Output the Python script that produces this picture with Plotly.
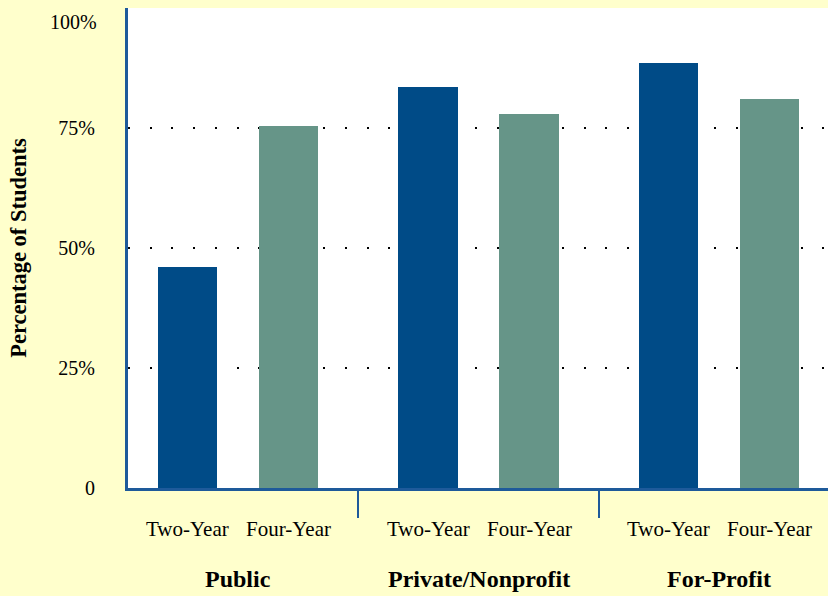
import plotly.graph_objects as go

# Share of students, by sector and program length
sectors = ["Public", "Private/Nonprofit", "For-Profit"]
programs = ["Two-Year", "Four-Year"]
two_year = [46.0, 83.5, 88.5]
four_year = [75.4, 77.9, 81.0]

y_ticks = [0, 25, 50, 75, 100]
y_tick_labels = ["0", "25%", "50%", "75%", "100%"]

DARK_BLUE = "#004B87"
TEAL = "#669588"
AXIS_BLUE = "#1E5A9A"
PAPER = "#FFFFCC"
SERIF = "Liberation Serif, Times New Roman, serif"

# Horizontal layout: bars one unit apart inside a group, groups spaced wider
GROUP_GAP = 2.38
BAR_WIDTH = 0.585

x_two = [g * GROUP_GAP for g in range(len(sectors))]
x_four = [g * GROUP_GAP + 1 for g in range(len(sectors))]
separators = [(x_four[g] + x_two[g + 1]) / 2 for g in range(len(sectors) - 1)]

fig = go.Figure()
fig.add_trace(go.Bar(x=x_two, y=two_year, width=BAR_WIDTH,
                     marker=dict(color=DARK_BLUE, line=dict(width=0)),
                     name="Two-Year", hoverinfo="y"))
fig.add_trace(go.Bar(x=x_four, y=four_year, width=BAR_WIDTH,
                     marker=dict(color=TEAL, line=dict(width=0)),
                     name="Four-Year", hoverinfo="y"))

# Program labels under each bar, sector labels under each pair
for g, sector in enumerate(sectors):
    for xpos, prog in ((x_two[g], programs[0]), (x_four[g], programs[1])):
        fig.add_annotation(x=xpos, y=-0.085, xref="x", yref="paper",
                           text=prog, showarrow=False,
                           font=dict(family=SERIF, size=21, color="#000"),
                           xanchor="center", yanchor="middle")
    fig.add_annotation(x=(x_two[g] + x_four[g]) / 2, y=-0.19, xref="x", yref="paper",
                       text=f"<b>{sector}</b>", showarrow=False,
                       font=dict(family=SERIF, size=24, color="#000"),
                       xanchor="center", yanchor="middle")

# The top tick label sits just inside the plot's upper edge
fig.add_annotation(x=0, y=y_ticks[-1], xref="paper", yref="y",
                   text=y_tick_labels[-1], showarrow=False,
                   font=dict(family=SERIF, size=20, color="#000"),
                   xanchor="right", yanchor="top", xshift=-29, yshift=-1)

fig.update_layout(
    width=828, height=596,
    margin=dict(l=128, r=0, t=8, b=108),
    paper_bgcolor=PAPER,
    plot_bgcolor="#FFFFFF",
    showlegend=False,
    bargap=0,
    xaxis=dict(
        range=[-0.59, 6.34],
        showgrid=False, zeroline=False,
        showline=True, linecolor=AXIS_BLUE, linewidth=3,
        tickmode="array", tickvals=separators, ticktext=["", ""],
        ticks="outside", ticklen=27, tickwidth=2, tickcolor=AXIS_BLUE,
        showticklabels=False,
    ),
    yaxis=dict(
        range=[0, 100],
        showline=True, linecolor=AXIS_BLUE, linewidth=3,
        zeroline=False,
        tickmode="array", tickvals=y_ticks[:-1], ticktext=y_tick_labels[:-1],
        ticks="", ticklabelstandoff=26,
        tickfont=dict(family=SERIF, size=20, color="#000"),
        showgrid=True, gridcolor="#000000", gridwidth=2,
        griddash="2px,19.7px",
        title=dict(text="<b>Percentage of Students</b>", standoff=26,
                   font=dict(family=SERIF, size=22.5, color="#000")),
    ),
)

fig.write_html("out.html")
